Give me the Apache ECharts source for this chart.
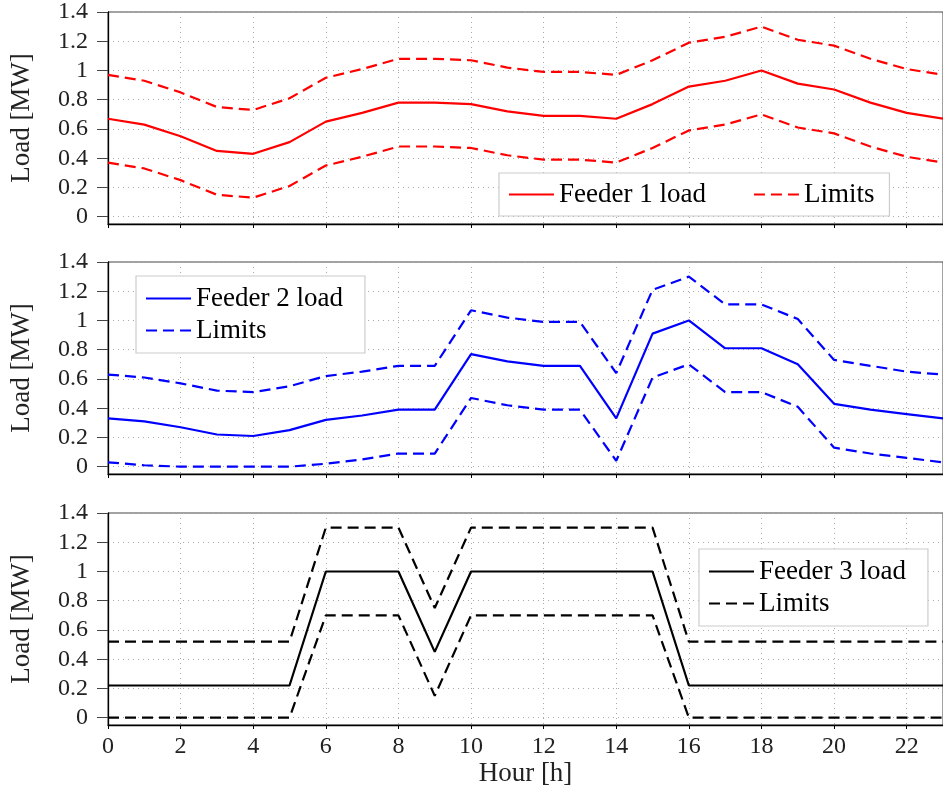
<!DOCTYPE html>
<html>
<head>
<meta charset="utf-8">
<script src="https://cdn.jsdelivr.net/npm/echarts@6/dist/echarts.min.js"></script>
<style>
html,body{margin:0;padding:0;background:#fff;}
#chart{width:943px;height:792px;}
</style>
</head>
<body>
<div id="chart"></div>
<script>
// ---- data ----
const hours = [0,1,2,3,4,5,6,7,8,9,10,11,12,13,14,15,16,17,18,19,20,21,22,23];
const xTicks = [0,2,4,6,8,10,12,14,16,18,20,22];
const yTicks = [0,0.2,0.4,0.6,0.8,1,1.2,1.4];

const feeder1Load  = [0.67,0.63,0.55,0.45,0.43,0.51,0.65,0.71,0.78,0.78,0.77,0.72,0.69,0.69,0.67,0.77,0.89,0.93,1.00,0.91,0.87,0.78,0.71,0.67];
const feeder1Upper = [0.97,0.93,0.85,0.75,0.73,0.81,0.95,1.01,1.08,1.08,1.07,1.02,0.99,0.99,0.97,1.07,1.19,1.23,1.30,1.21,1.17,1.08,1.01,0.97];
const feeder1Lower = [0.37,0.33,0.25,0.15,0.13,0.21,0.35,0.41,0.48,0.48,0.47,0.42,0.39,0.39,0.37,0.47,0.59,0.63,0.70,0.61,0.57,0.48,0.41,0.37];

const feeder2Load  = [0.33,0.31,0.27,0.22,0.21,0.25,0.32,0.35,0.39,0.39,0.77,0.72,0.69,0.69,0.33,0.91,1.00,0.81,0.81,0.70,0.43,0.39,0.36,0.33];
const feeder2Upper = [0.63,0.61,0.57,0.52,0.51,0.55,0.62,0.65,0.69,0.69,1.07,1.02,0.99,0.99,0.64,1.21,1.30,1.11,1.11,1.01,0.73,0.69,0.65,0.63];
const feeder2Lower = [0.03,0.01,0.00,0.00,0.00,0.00,0.02,0.05,0.09,0.09,0.47,0.42,0.39,0.39,0.04,0.61,0.70,0.51,0.51,0.41,0.13,0.09,0.06,0.03];

const feeder3Load  = [0.22,0.22,0.22,0.22,0.22,0.22,1.00,1.00,1.00,0.45,1.00,1.00,1.00,1.00,1.00,1.00,0.22,0.22,0.22,0.22,0.22,0.22,0.22,0.22];
const feeder3Upper = [0.52,0.52,0.52,0.52,0.52,0.52,1.30,1.30,1.30,0.75,1.30,1.30,1.30,1.30,1.30,1.30,0.52,0.52,0.52,0.52,0.52,0.52,0.52,0.52];
const feeder3Lower = [0.00,0.00,0.00,0.00,0.00,0.00,0.70,0.70,0.70,0.15,0.70,0.70,0.70,0.70,0.70,0.70,0.00,0.00,0.00,0.00,0.00,0.00,0.00,0.00];

const panels = [
  {label:'Feeder 1 load', color:'#ff0000', load:feeder1Load, upper:feeder1Upper, lower:feeder1Lower},
  {label:'Feeder 2 load', color:'#0000ff', load:feeder2Load, upper:feeder2Upper, lower:feeder2Lower},
  {label:'Feeder 3 load', color:'#000000', load:feeder3Load, upper:feeder3Upper, lower:feeder3Lower}
];

// ---- layout / style ----
const FONT = 'Liberation Serif';
const tops = [12, 262, 513];
const DASH = [11, 6];

const grids = [], xAxes = [], yAxes = [], series = [];
panels.forEach((p, i) => {
  grids.push({left:108, top:tops[i], width:842, height:212, show:true, borderColor:'#444', borderWidth:1, backgroundColor:'transparent'});
  const last = i === 2;
  xAxes.push({
    type:'value', gridIndex:i, min:0, max:23, interval:2,
    axisLine:{show:true, onZero:false, lineStyle:{color:'#000', width:1.3}},
    axisTick:{show:true, inside:false, length:4, customValues:xTicks, lineStyle:{color:'#000'}},
    axisLabel:{show:last, customValues:xTicks, margin:10, fontFamily:FONT, fontSize:24, color:'#222'},
    splitLine:{show:true, lineStyle:{color:'#aaa', type:[1,4], width:1}},
    name: last ? 'Hour [h]' : '',
    nameLocation:'middle', nameGap:35,
    nameTextStyle:{fontFamily:FONT, fontSize:27, color:'#222'}
  });
  yAxes.push({
    type:'value', gridIndex:i, min:-0.05, max:1.4, splitNumber:7,
    axisLine:{show:true, lineStyle:{color:'#000', width:1.3}},
    axisTick:{show:true, inside:false, length:11, customValues:yTicks, lineStyle:{color:'#444'}},
    axisLabel:{customValues:yTicks, margin:20, fontFamily:FONT, fontSize:24, color:'#222',
      formatter:v => String(+(+v).toFixed(1))},
    splitLine:{show:true, lineStyle:{color:'#aaa', type:[1,4], width:1}},
    name:'Load [MW]', nameLocation:'middle', nameGap:73,
    nameTextStyle:{fontFamily:FONT, fontSize:27, color:'#222'}
  });
  const mk = arr => hours.map((h, k) => [h, arr[k]]);
  series.push({type:'line', name:p.label, xAxisIndex:i, yAxisIndex:i, data:mk(p.load),
    symbol:'none', color:p.color, lineStyle:{color:p.color, width:2.2}, animation:false});
  series.push({type:'line', name:'Limits#'+i, xAxisIndex:i, yAxisIndex:i, data:mk(p.upper),
    symbol:'none', color:p.color, lineStyle:{color:p.color, width:2.2, type:DASH}, animation:false});
  series.push({type:'line', name:'Limits#'+i, xAxisIndex:i, yAxisIndex:i, data:mk(p.lower),
    symbol:'none', color:p.color, lineStyle:{color:p.color, width:2.2, type:DASH}, animation:false});
});

const legendBase = {
  itemWidth:45, itemHeight:4, backgroundColor:'#fff', borderColor:'#ccc', borderWidth:1.2,
  itemStyle:{opacity:0},
  textStyle:{fontFamily:FONT, fontSize:27, color:'#000', lineHeight:31},
  formatter: n => n.split('#')[0],
  selectedMode:false
};
const legends = [
  Object.assign({}, legendBase, {orient:'horizontal', left:499, top:173, padding:[6,15,6,9], itemGap:47,
    data:['Feeder 1 load','Limits#0']}),
  Object.assign({}, legendBase, {orient:'vertical', left:136, top:276, padding:[7,22,7,9], itemGap:1,
    data:['Feeder 2 load','Limits#1']}),
  Object.assign({}, legendBase, {orient:'vertical', left:699, top:549, padding:[7,22,7,9], itemGap:1,
    data:['Feeder 3 load','Limits#2']})
];

const chart = echarts.init(document.getElementById('chart'), null, {renderer:'canvas'});
chart.setOption({
  animation:false,
  backgroundColor:'#fff',
  grid:grids, xAxis:xAxes, yAxis:yAxes, legend:legends, series:series
});
</script>
</body>
</html>
